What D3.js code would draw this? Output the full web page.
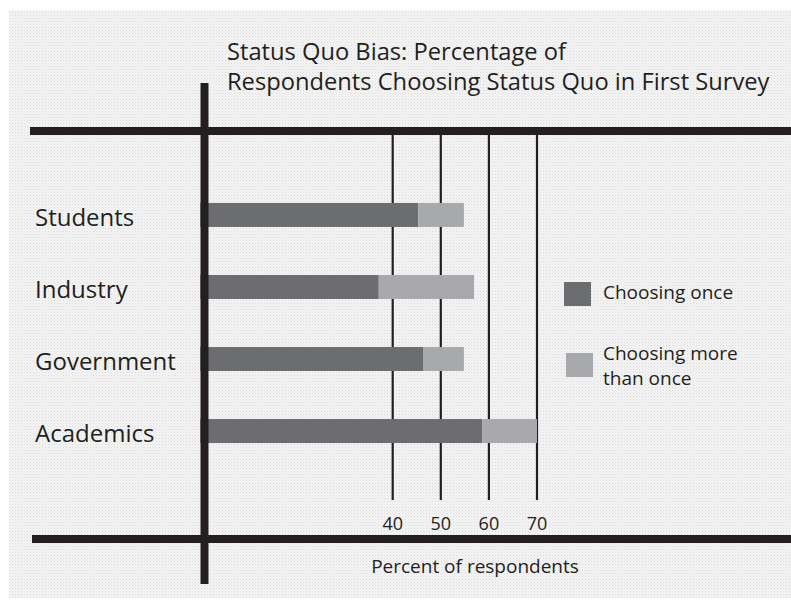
<!DOCTYPE html>
<html>
<head>
<meta charset="utf-8">
<script src="https://cdn.jsdelivr.net/npm/d3@7"></script>
<style>
  body { margin: 0; background: #fff; }
  svg { display: block; font-family: "Open Sans", "Noto Sans", sans-serif; }
</style>
</head>
<body>
<svg id="chart" width="791" height="606"></svg>
<script>
// data
const groups = ["Students", "Industry", "Government", "Academics"];
const once = [45.3, 37.1, 46.3, 58.6];
const moreThanOnce = [9.5, 19.8, 8.5, 11.4];
const ticks = [40, 50, 60, 70];
const seriesNames = ["Choosing once", "Choosing more than once"];

const svg = d3.select("#chart");
const INK = "#231f20";
const DARK = "#6c6d71";
const LIGHT = "#a8a9ad";

// dotted paper texture
const defs = svg.append("defs");
const pat = defs.append("pattern")
    .attr("id", "dots").attr("width", 3).attr("height", 3)
    .attr("patternUnits", "userSpaceOnUse");
pat.append("rect").attr("width", 3).attr("height", 3).attr("fill", "#f4f4f4");
pat.append("rect").attr("width", 1).attr("height", 1).attr("fill", "#dadada");
pat.append("rect").attr("x", 1.5).attr("y", 1.5).attr("width", 1).attr("height", 1).attr("fill", "#e4e4e4");

svg.append("rect")
    .attr("x", 9).attr("y", 10).attr("width", 782).attr("height", 588)
    .attr("fill", "url(#dots)");

// scales
const x = d3.scaleLinear().domain([0, 70]).range([200.3, 537]);
const y = d3.scaleBand().domain(groups).range([179, 467]).paddingInner(0.667).paddingOuter(0.333);

const TOP = 131, BOTTOM = 539;

// vertical grid lines from the top rule down to the tick labels
svg.append("g").selectAll("line")
    .data(ticks)
    .join("line")
    .attr("x1", d => x(d)).attr("x2", d => x(d))
    .attr("y1", TOP).attr("y2", 500)
    .attr("stroke", INK).attr("stroke-width", 2.2);

// tick labels
svg.append("g").selectAll("text")
    .data(ticks)
    .join("text")
    .attr("x", d => x(d))
    .attr("y", 530)
    .attr("text-anchor", "middle")
    .attr("font-size", 18)
    .attr("fill", INK)
    .text(d => d);

// stacked bars
const rows = groups.map((g, i) => ({ g, a: once[i], b: moreThanOnce[i] }));
const bars = svg.append("g");
bars.selectAll("rect.once")
    .data(rows)
    .join("rect")
    .attr("class", "once")
    .attr("x", x(0))
    .attr("y", d => y(d.g))
    .attr("width", d => x(d.a) - x(0))
    .attr("height", y.bandwidth())
    .attr("fill", DARK);
bars.selectAll("rect.more")
    .data(rows)
    .join("rect")
    .attr("class", "more")
    .attr("x", d => x(d.a))
    .attr("y", d => y(d.g))
    .attr("width", d => x(d.a + d.b) - x(d.a))
    .attr("height", y.bandwidth())
    .attr("fill", LIGHT);

// category labels
svg.append("g").selectAll("text")
    .data(groups)
    .join("text")
    .attr("x", 35)
    .attr("y", d => y(d) + y.bandwidth() / 2 + 11)
    .attr("font-size", 24)
    .attr("fill", INK)
    .text(d => d);

// heavy rules
svg.append("line")
    .attr("x1", 30).attr("x2", 791).attr("y1", TOP).attr("y2", TOP)
    .attr("stroke", INK).attr("stroke-width", 8);
svg.append("line")
    .attr("x1", 32).attr("x2", 791).attr("y1", BOTTOM).attr("y2", BOTTOM)
    .attr("stroke", INK).attr("stroke-width", 8);
svg.append("line")
    .attr("x1", 204.5).attr("x2", 204.5).attr("y1", 83).attr("y2", 584)
    .attr("stroke", INK).attr("stroke-width", 8);

// title
const title = svg.append("text")
    .attr("x", 227).attr("font-size", 23.7).attr("fill", INK);
title.append("tspan").attr("x", 227).attr("y", 60).text("Status Quo Bias: Percentage of");
title.append("tspan").attr("x", 227).attr("y", 90).text("Respondents Choosing Status Quo in First Survey");

// axis title
svg.append("text")
    .attr("x", 475).attr("y", 573)
    .attr("text-anchor", "middle")
    .attr("font-size", 19)
    .attr("fill", INK)
    .text("Percent of respondents");

// legend
const legend = svg.append("g");
const lg = [
    { name: seriesNames[0], color: DARK, sy: 282, lines: ["Choosing once"], ty: 299 },
    { name: seriesNames[1], color: LIGHT, sy: 353, lines: ["Choosing more", "than once"], ty: 360 }
];
legend.selectAll("rect")
    .data(lg)
    .join("rect")
    .attr("x", (d, i) => 564 + i * 2)
    .attr("y", d => d.sy)
    .attr("width", 27).attr("height", 24)
    .attr("fill", d => d.color);
legend.selectAll("text")
    .data(lg)
    .join("text")
    .attr("x", 603)
    .attr("y", d => d.ty)
    .attr("font-size", 19)
    .attr("fill", INK)
    .each(function (d) {
        d3.select(this).selectAll("tspan")
            .data(d.lines)
            .join("tspan")
            .attr("x", 603)
            .attr("dy", (t, j) => j === 0 ? 0 : 25)
            .text(t => t);
    });
</script>
</body>
</html>
